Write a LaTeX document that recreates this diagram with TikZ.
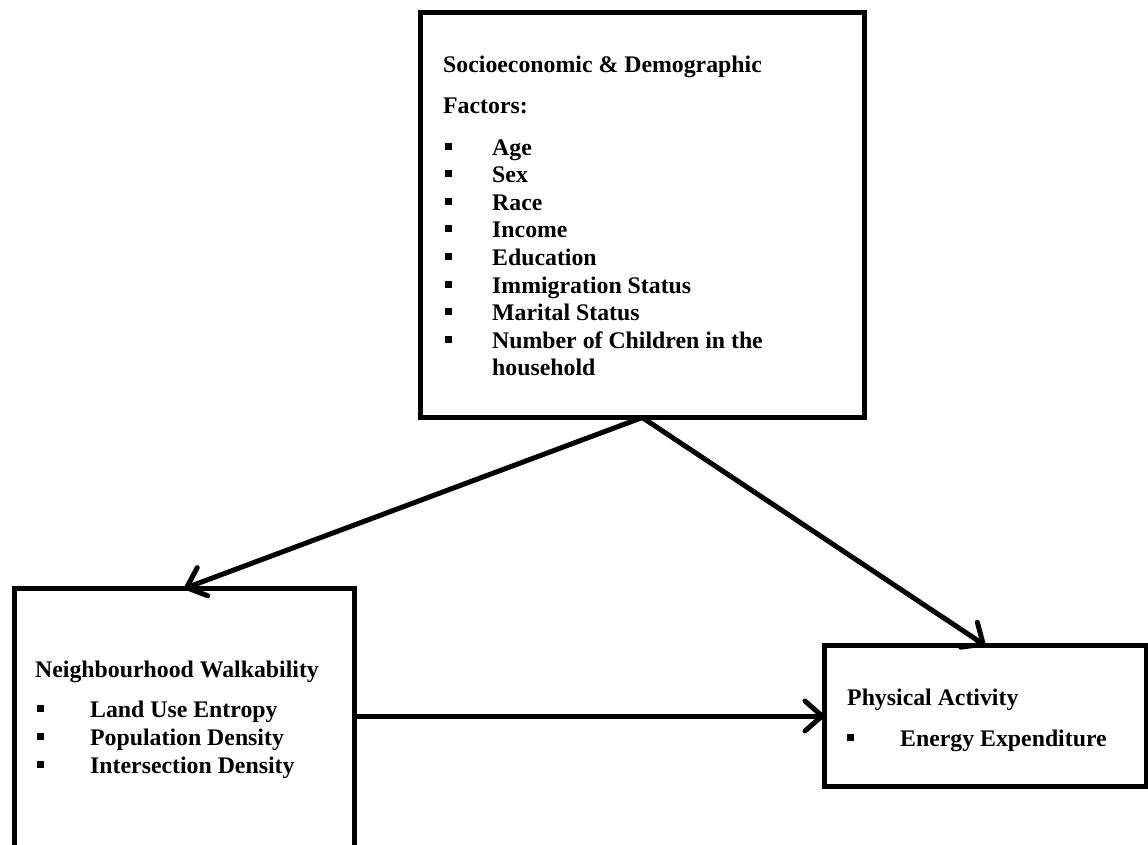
\documentclass[tikz,border=0pt]{standalone}
\usepackage{fontspec}
\setmainfont{Liberation Serif}
\usetikzlibrary{arrows.meta}
\newcommand\sqbul{\rule[5.5pt]{7pt}{7pt}}
\newcommand\itmA[1]{\makebox[47pt][l]{\sqbul}&#1}
\newcommand\itmB[1]{\makebox[53pt][l]{\sqbul}&#1}
\begin{document}
\begin{tikzpicture}[x=1pt,y=-1pt,
  box/.style={draw,line width=5pt,inner sep=0pt,outer sep=0pt},
  txt/.style={anchor=base west,inner sep=0pt,font=\fontsize{23.8}{27.6}\selectfont\bfseries},
  conn/.style={line width=5pt,-{Straight Barb[length=17pt,width=30pt,round]}}]
\useasboundingbox (0,0) rectangle (1148,844);
\fill[white] (0,0) rectangle (1148,844);
\begin{scope}
\clip (0,0) rectangle (1148,844);
% boxes
\node[box,minimum width=443.5pt,minimum height=405pt] (sde) at (642.25,215) {};
\node[box,minimum width=339.5pt,minimum height=331.5pt] (nw) at (184.25,754.25) {};
\node[box,minimum width=321.5pt,minimum height=141pt] (pa) at (985.25,716) {};
% texts
\node[txt] (sdeh) at (443,72) {Socioeconomic \& Demographic};
\node[txt] (sdef) at (443,113) {Factors:};
\node[txt] (sdel) at (445,155) {\begin{tabular}[t]{@{}l@{}l@{}}
\itmA{Age}\\
\itmA{Sex}\\
\itmA{Race}\\
\itmA{Income}\\
\itmA{Education}\\
\itmA{Immigration Status}\\
\itmA{Marital Status}\\
\itmA{Number of Children in the}\\
 & household
\end{tabular}};
\node[txt] (nwh) at (35,677) {Neighbourhood Walkability};
\node[txt,font=\fontsize{23.8}{28}\selectfont\bfseries] (nwl) at (37,717) {\begin{tabular}[t]{@{}l@{}l@{}}
\itmB{Land Use Entropy}\\
\itmB{Population Density}\\
\itmB{Intersection Density}
\end{tabular}};
\node[txt] (pah) at (847,705) {Physical Activity};
\node[txt] (pal) at (847,746) {\begin{tabular}[t]{@{}l@{}l@{}}
\itmB{Energy Expenditure}
\end{tabular}};
% connectors
\draw[conn] (sde.south) -- (nw.north);
\draw[conn] (sde.south) -- (pa.north);
\draw[conn] (nw.east |- pa.west) -- (pa.west);
\end{scope}
\end{tikzpicture}
\end{document}
